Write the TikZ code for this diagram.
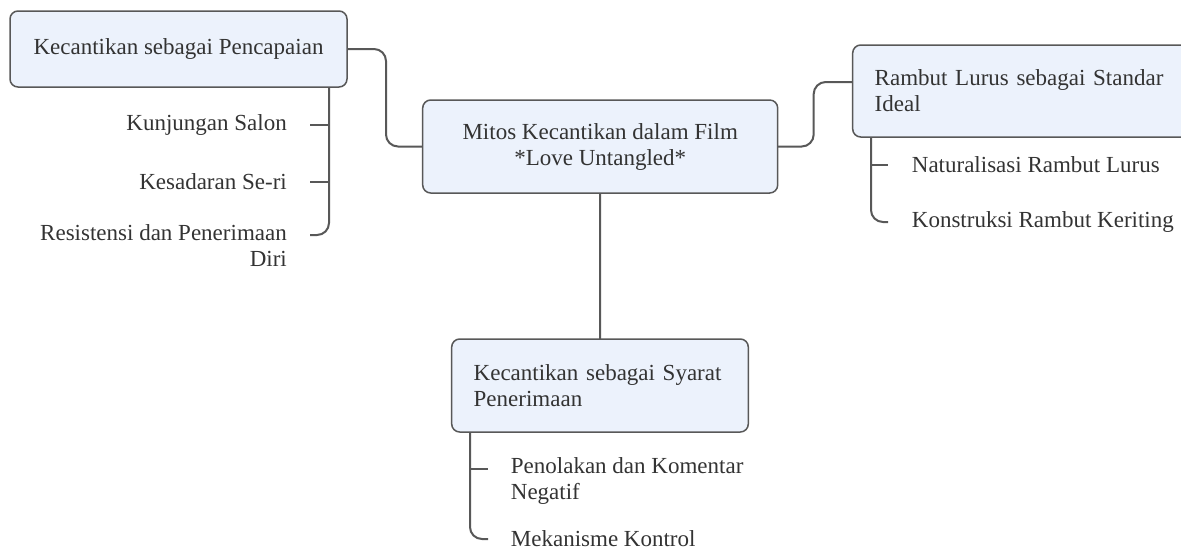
\documentclass[tikz,border=0pt]{standalone}
\usepackage{fontspec}
\setmainfont{Liberation Serif}
\usepackage{tikz}
\usetikzlibrary{calc}
\definecolor{mapFill}{RGB}{236,242,252}
\definecolor{mapLine}{RGB}{88,88,88}
\definecolor{mapText}{RGB}{51,51,51}
\def\mapfont{\fontsize{23}{26}\selectfont}
\tikzset{
  topic/.style={draw=mapLine, fill=mapFill, line width=1.5pt, rounded corners=8pt,
    anchor=north west, inner xsep=22pt, inner ysep=0pt, outer sep=0pt,
    font=\mapfont, text=mapText},
  leaf/.style={inner sep=0pt, font=\mapfont, text=mapText},
  link/.style={draw=mapLine, line width=2pt, rounded corners=12pt}
}

\begin{document}
\begin{tikzpicture}[x=1pt, y=-1pt]
  \useasboundingbox (0,0) rectangle (1181,550);

  % main topics
  \node[topic, minimum width=337pt, minimum height=76pt, align=center] (pencapaian) at (10,11) {Kecantikan sebagai Pencapaian};
  \node[topic, minimum width=355pt, minimum height=93pt, align=center] (mitos) at (422.7,100) {Mitos Kecantikan dalam Film\\*Love Untangled*};
  \node[topic, text width=296pt, minimum height=92pt, align=left] (rambut) at (852.7,45) {Rambut Lurus sebagai Standar\\Ideal};
  \node[topic, text width=252.6pt, minimum height=93pt, align=left] (syarat) at (451.7,339) {Kecantikan sebagai Syarat\\Penerimaan};

  \draw[link] (pencapaian.east) -- ++(39,0) |- (mitos.west);
  \draw[link] (mitos.east) -- ++(36,0) |- ([yshift=-37pt]rambut.north west);
  \draw[link] (mitos.south) -- (syarat.north);

  % leaves
  \node[leaf, anchor=east] (salon) at (287,125) {Kunjungan Salon};
  \node[leaf, anchor=east] (seri) at (287,181.7) {Kesadaran Se-ri};
  \node[leaf, anchor=north east, align=right] (diri) at (287,224) {Resistensi dan Penerimaan\\Diri};

  \node[leaf, anchor=west] (naturalisasi) at (911.7,165) {Naturalisasi Rambut Lurus};
  \node[leaf, anchor=west] (keriting) at (911.7,222) {Konstruksi Rambut Keriting};

  \node[leaf, anchor=north west, align=left] (penolakan) at (510.7,457) {Penolakan dan Komentar\\Negatif};
  \node[leaf, anchor=west] (kontrol) at (510.7,539) {Mekanisme Kontrol};

  \coordinate (trunkA) at ([xshift=-18pt]pencapaian.south east);
  \coordinate (trunkB) at ([xshift=18.3pt]rambut.south west);
  \coordinate (trunkC) at ([xshift=18.3pt]syarat.south west);

  \draw[link] (trunkA) |- ([xshift=23pt,yshift=-11pt]diri.north east);
  \draw[link] ([xshift=23pt]salon.east) -- (salon.east -| trunkA);
  \draw[link] ([xshift=23pt]seri.east) -- (seri.east -| trunkA);

  \draw[link] (trunkB) |- ([xshift=-23.7pt]keriting.west);
  \draw[link] (trunkB |- naturalisasi.west) -- ([xshift=-23.7pt]naturalisasi.west);

  \draw[link] (trunkC) |- ([xshift=-22.7pt]kontrol.west);
  \draw[link] ([yshift=-12pt]trunkC |- penolakan.north west) -- ([xshift=-22.7pt,yshift=-12pt]penolakan.north west);

\end{tikzpicture}
\end{document}
